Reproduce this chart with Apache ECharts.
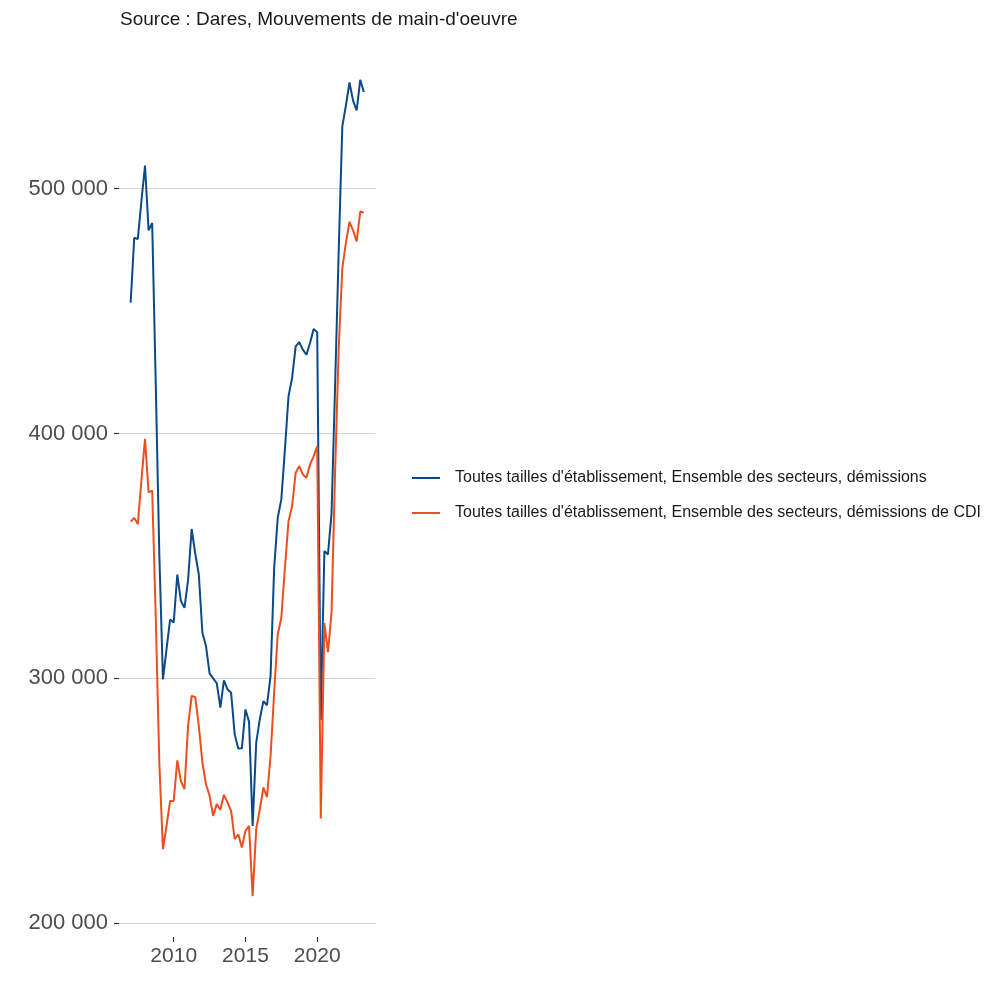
<!DOCTYPE html>
<html>
<head>
<meta charset="utf-8">
<script src="https://cdn.jsdelivr.net/npm/echarts@6/dist/echarts.min.js"></script>
<style>html,body{margin:0;padding:0;background:#fff}#c{width:1000px;height:1000px}</style>
</head>
<body>
<div id="c"></div>
<script>
// Quarterly data, first quarter = 2007 T1
const startYear = 2007;
const seriesNames = [
  "Toutes tailles d'établissement, Ensemble des secteurs, démissions",
  "Toutes tailles d'établissement, Ensemble des secteurs, démissions de CDI"
];
const demissions = [
  453500, 480000, 479500, 495000,
  509500, 483000, 486000, 420000,
  350000, 299600, 312000, 324000,
  322800, 342400, 331600, 328800,
  340000, 361000, 351000, 342400,
  318600, 313200, 302000, 300000,
  298000, 288000, 299200, 295500,
  294100, 277100, 271300, 271400,
  287300, 282300, 239700, 273700,
  283300, 290700, 289000, 301000,
  345000, 365600, 373100, 393500,
  415200, 422700, 435600, 437300,
  434300, 432200, 437000, 442700,
  441400, 283000, 352000, 350600,
  367500, 420000, 475000, 525500,
  534000, 543400, 536000, 532000,
  544500, 539500
];
const demissionsCDI = [
  364000, 365500, 363000, 381000,
  397800, 376000, 376700, 325000,
  265000, 230200, 239700, 249900,
  249900, 266500, 258000, 254700,
  280500, 292800, 292400, 280500,
  265600, 256700, 252000, 243800,
  248600, 246300, 252400, 249300,
  245800, 234300, 236300, 230900,
  237700, 239700, 211000, 238400,
  246500, 255400, 251500, 268300,
  294200, 318000, 324800, 345000,
  364200, 370300, 384000, 386700,
  383300, 381900, 387300, 390700,
  394800, 242700, 322500, 310700,
  327000, 385000, 435000, 467500,
  478000, 486500, 483000, 478500,
  490700, 490200
];
const xTicks = [2010, 2015, 2020];
const yTicks = [200000, 300000, 400000, 500000];
const caption = "Source : Dares, Mouvements de main-d'oeuvre";

const toXY = arr => arr.map((v, i) => [startYear + i / 4, v]);
const fmt = v => String(v).replace(/\B(?=(\d{3})+(?!\d))/g, ' ');

const allVals = demissions.concat(demissionsCDI);
const vMin = Math.min(...allVals), vMax = Math.max(...allVals);
const vPad = (vMax - vMin) * 0.05;
const xFirst = startYear, xLast = startYear + (demissions.length - 1) / 4;
const xPad = (xLast - xFirst) * 0.05;

const font = "'Liberation Sans', Arial, Helvetica, sans-serif";
const chart = echarts.init(document.getElementById('c'), null, {renderer: 'canvas'});
chart.setOption({
  animation: false,
  backgroundColor: '#ffffff',
  title: {
    text: caption,
    left: 115, top: 5,
    textStyle: {fontSize: 19, fontWeight: 'normal', color: '#1a1a1a', fontFamily: font}
  },
  legend: {
    orient: 'vertical',
    left: 407, top: 464,
    icon: 'rect',
    itemWidth: 28, itemHeight: 2,
    itemGap: 17,
    textStyle: {fontSize: 16, color: '#1a1a1a', fontFamily: font, lineHeight: 18, padding: [0, 0, 0, 10]},
    data: seriesNames
  },
  grid: {left: 119, right: 624.5, top: 39, bottom: 63, containLabel: false},
  xAxis: {
    type: 'value',
    min: xFirst - xPad, max: xLast + xPad,
    axisLine: {show: false},
    axisTick: {show: true, length: 5, customValues: xTicks, lineStyle: {color: '#333333', width: 1.2}},
    axisLabel: {customValues: xTicks, margin: 9, fontSize: 21, color: '#4d4d4d', fontFamily: font, formatter: v => String(v)},
    splitLine: {show: false}
  },
  yAxis: {
    type: 'value',
    min: vMin - vPad, max: vMax + vPad,
    axisLine: {show: false},
    axisTick: {show: true, length: 5, customValues: yTicks, lineStyle: {color: '#333333', width: 1.2}},
    axisLabel: {customValues: yTicks, margin: 11, fontSize: 22, color: '#4d4d4d', fontFamily: font, formatter: v => fmt(v)},
    splitLine: {show: true, lineStyle: {color: '#d6d6d6', width: 1.2}}
  },
  series: [
    {
      name: seriesNames[0], type: 'line', data: toXY(demissions),
      showSymbol: false, symbol: 'none',
      lineStyle: {color: '#0c4a87', width: 2}, itemStyle: {color: '#0c4a87'}
    },
    {
      name: seriesNames[1], type: 'line', data: toXY(demissionsCDI),
      showSymbol: false, symbol: 'none',
      lineStyle: {color: '#eb4f1f', width: 2}, itemStyle: {color: '#eb4f1f'}
    }
  ]
});
</script>
</body>
</html>
